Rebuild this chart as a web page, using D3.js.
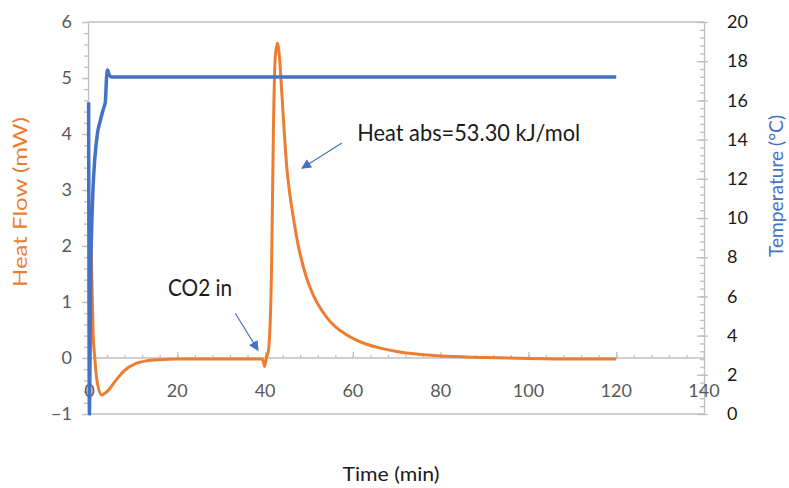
<head>
	<style>
		body { margin: 0; padding: 0; background: #fff; }
		svg { font-family: Lato, "Open Sans", sans-serif; }
		.axis path, .axis line { stroke: #bfbfbf; stroke-width: 1.3; }
	</style>
	<script src="https://cdnjs.cloudflare.com/ajax/libs/d3/7.8.5/d3.min.js"></script>
</head>
<body>
	<svg width="789" height="488"></svg>
</body>
<script>
	// heat flow (mW), left axis
	const hfTime = [0.3, 0.5, 0.8, 1.2, 1.8, 2.8, 4, 6, 8, 10.5, 13, 16, 20, 30, 39.4, 39.9, 40.3, 40.8, 41.5, 41.9, 42.3, 42.8, 43.3, 43.8, 44.4, 44.9, 45.6, 46.4, 47.2, 48, 49.5, 51, 52.5, 54, 56, 58, 60, 63, 66, 70, 75, 80, 90, 100, 110, 120];
	const hfVal  = [2.4, 1.55, 0.5, 0, -0.45, -0.66, -0.6, -0.4, -0.22, -0.1, -0.05, -0.03, -0.02, -0.02, -0.02, -0.15, 0.0, 0.15, 1.7, 4.07, 5.35, 5.62, 5.35, 4.75, 4.0, 3.45, 2.95, 2.53, 2.15, 1.85, 1.42, 1.12, 0.9, 0.73, 0.56, 0.44, 0.35, 0.25, 0.18, 0.115, 0.065, 0.035, 0.01, -0.01, -0.02, -0.02];

	// temperature (°C), right axis
	const tempTime = [-0.2, 0, 0.15, 0.3, 0.5, 0.8, 1.2, 1.8, 2.5, 3.2, 3.6, 3.9, 4.1, 4.5, 5, 120];
	const tempVal  = [15.9, 0, 4, 7.5, 9.5, 11.5, 13, 14.3, 15, 15.6, 15.9, 17.2, 17.55, 17.3, 17.2, 17.2];

	const xTicks = [0, 20, 40, 60, 80, 100, 120, 140];
	const leftTicks = [-1, 0, 1, 2, 3, 4, 5, 6];
	const rightTicks = [0, 2, 4, 6, 8, 10, 12, 14, 16, 18, 20];

	// notes in data units (time, heat flow)
	const notes = [
		{ text: 'CO2 in', t: 17.9, v: 1.107, len: 64, from: [33.2, 0.8], to: [38.4, 0.14] },
		{ text: 'Heat abs=53.30 kJ/mol', t: 61, v: 3.875, len: 223, from: [57.5, 3.84], to: [48.4, 3.39] }
	];

	const orange = '#ed7d31', blue = '#4472c4';

	function draw() {
		const svg = d3.select('svg');
		const x = d3.scaleLinear([0, 140], [89.5, 704]);
		const yL = d3.scaleLinear([-1, 6], [414, 22]);
		const yR = d3.scaleLinear([0, 20], [414, 22]);

		// frame lines top and bottom
		svg.append('g').attr('class', 'axis').selectAll('line').data([6, -1]).join('line')
			.attr('x1', 88).attr('x2', 704)
			.attr('y1', d => yL(d)).attr('y2', d => yL(d));

		// left axis
		svg.append('g').attr('class', 'axis').attr('transform', 'translate(88,0)')
			.call(d3.axisLeft(yL).tickValues(d3.range(-1, 6.001, 0.2)).tickSize(4).tickFormat(''))
			.call(g => g.select('.domain').remove());
		const gl = svg.append('g').attr('class', 'axis').attr('transform', 'translate(88,0)')
			.call(d3.axisLeft(yL).tickValues(leftTicks).tickSizeInner(6).tickSizeOuter(0).tickPadding(10).tickFormat(d3.format('d')));
		gl.selectAll('text').attr('fill', '#595959').style('font-size', '18px').style('font-family', 'Lato');

		// right axis
		svg.append('g').attr('class', 'axis').attr('transform', 'translate(704,0)')
			.call(d3.axisLeft(yR).tickValues(d3.range(0, 20.001, 0.4)).tickSize(4).tickFormat(''))
			.call(g => g.select('.domain').remove());
		const gr = svg.append('g').attr('class', 'axis').attr('transform', 'translate(704,0)')
			.call(d3.axisRight(yR).tickValues(rightTicks).tickSizeOuter(0).tickSizeInner(4).tickPadding(19).tickFormat(d3.format('d')));
		gr.selectAll('.tick line').attr('x1', -7);
		gr.selectAll('text').attr('fill', '#1a1a1a').style('font-size', '18px').style('font-family', 'Lato');

		// x axis on the zero line
		const y0 = yL(0);
		svg.append('g').attr('class', 'axis').attr('transform', `translate(0,${y0})`)
			.call(d3.axisTop(x).tickValues(d3.range(0, 140.001, 4)).tickSize(3).tickFormat(''))
			.call(g => g.select('.domain').remove());
		svg.append('g').attr('class', 'axis').attr('transform', `translate(0,${y0})`)
			.call(d3.axisTop(x).tickValues(xTicks).tickSizeInner(6).tickSizeOuter(0).tickFormat(''))
			.call(g => g.select('.domain').attr('d', `M88,0H704`));
		svg.append('g').selectAll('text').data(xTicks).join('text')
			.attr('x', d => x(d)).attr('y', 397)
			.attr('text-anchor', 'middle').attr('fill', '#595959')
			.style('font-size', '18px').text(d => d);

		// series
		const hf = hfTime.map((t, i) => [t, hfVal[i]]);
		const temp = tempTime.map((t, i) => [t, tempVal[i]]);
		svg.append('path').datum(hf)
			.attr('fill', 'none').attr('stroke', orange).attr('stroke-width', 3)
			.attr('stroke-linejoin', 'round')
			.attr('d', d3.line().x(d => x(d[0])).y(d => yL(d[1])).curve(d3.curveMonotoneX));
		svg.append('path').datum(temp)
			.attr('fill', 'none').attr('stroke', blue).attr('stroke-width', 3.5)
			.attr('stroke-linejoin', 'round')
			.attr('d', d3.line().x(d => x(d[0])).y(d => yR(d[1])).curve(d3.curveMonotoneX));

		// annotations
		svg.append('defs').append('marker')
			.attr('id', 'head').attr('viewBox', '0 0 10 10').attr('refX', 9).attr('refY', 5)
			.attr('markerWidth', 10).attr('markerHeight', 10).attr('markerUnits', 'userSpaceOnUse')
			.attr('orient', 'auto')
			.append('path').attr('d', 'M0,0L10,5L0,10Z').attr('fill', blue);
		const ann = svg.append('g');
		ann.selectAll('line').data(notes).join('line')
			.attr('x1', d => x(d.from[0])).attr('y1', d => yL(d.from[1]))
			.attr('x2', d => x(d.to[0])).attr('y2', d => yL(d.to[1]))
			.attr('stroke', blue).attr('stroke-width', 1.2).attr('marker-end', 'url(#head)');
		ann.selectAll('text').data(notes).join('text')
			.attr('x', d => x(d.t)).attr('y', d => yL(d.v))
			.attr('fill', '#1a1a1a').style('font-size', '24px')
			.attr('textLength', d => d.len).attr('lengthAdjust', 'spacingAndGlyphs')
			.text(d => d.text);

		// axis titles
		svg.append('text').attr('x', 391).attr('y', 481).attr('text-anchor', 'middle')
			.attr('fill', '#1a1a1a').style('font-size', '19px')
			.attr('textLength', 97).attr('lengthAdjust', 'spacingAndGlyphs').text('Time (min)');
		svg.append('text').attr('transform', 'translate(27,202) rotate(-90)').attr('text-anchor', 'middle')
			.attr('fill', orange).style('font-size', '19px')
			.attr('textLength', 170).attr('lengthAdjust', 'spacingAndGlyphs').text('Heat Flow (mW)');
		svg.append('text').attr('transform', 'translate(783,186) rotate(-90)').attr('text-anchor', 'middle')
			.attr('fill', blue).style('font-size', '19px')
			.attr('textLength', 142).attr('lengthAdjust', 'spacingAndGlyphs').text('Temperature (°C)');
	}
	document.addEventListener('DOMContentLoaded', draw, false);
</script>
